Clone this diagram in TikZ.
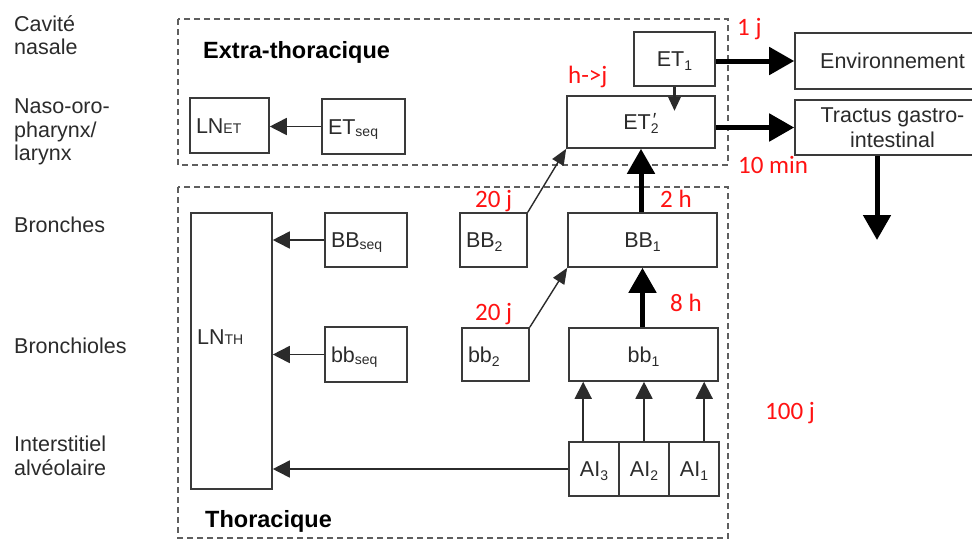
\documentclass[tikz,border=0pt]{standalone}
\usepackage{fontspec}
\setmainfont{Liberation Sans}
\newfontfamily\redfont{Carlito}
\usetikzlibrary{arrows.meta}

\definecolor{ink}{HTML}{2B2B2B}
\definecolor{frame}{HTML}{3A3A3A}
\definecolor{dashgray}{HTML}{5E5E5E}
\definecolor{timered}{HTML}{FF1212}

% small index set after a compartment name
\newcommand{\lo}[2][0pt]{\raisebox{#1}{\fontsize{14}{14}\selectfont #2}}
% prime placed above the index
\newcommand{\pr}{\makebox[0pt][l]{\hspace{2pt}\raisebox{3pt}{\fontsize{19}{19}\selectfont ′}}}

\tikzset{
  frameonly/.style={draw=frame, line width=1.6pt, inner sep=0pt, text=ink,
    fill=white, font=\fontsize{21.5}{25}\selectfont},
  box/.style={frameonly, text height=16pt, text depth=1pt},
  lbox/.style={box, align=left, inner xsep=6pt},
  zone/.style={draw=dashgray, line width=1.7pt, dash pattern=on 6pt off 4pt},
  side/.style={anchor=base west, inner sep=0pt, text=ink,
    font=\fontsize{21.5}{23.5}\selectfont},
  title/.style={anchor=base west, inner sep=0pt, text=black,
    font=\fontsize{23.5}{26}\selectfont\bfseries},
  delay/.style={anchor=base west, inner sep=0pt, text=timered,
    font=\redfont\fontsize{25}{27}\selectfont},
  thin/.style={draw=ink, line width=1.7pt, -{Triangle[length=17pt,width=17pt]}},
  slim/.style={draw=ink, line width=1.4pt, -{Triangle[length=16pt,width=13pt]}},
  drop/.style={draw=ink, line width=2.8pt, -{Triangle[length=14pt,width=12pt]}},
  thick/.style={draw=black, line width=5pt, -{Triangle[length=25pt,width=27pt]}},
}

\begin{document}
\begin{tikzpicture}[x=1pt,y=-1pt]
  \useasboundingbox (0,0) rectangle (972,542);
  \clip (0,0) rectangle (972,542);
  \fill[white] (0,0) rectangle (972,542);

  % regions of the respiratory tract
  \node[side] (l1) at (14,31) {Cavité};
  \node[side] (l2) at (14,54.5) {nasale};
  \node[side] (l3) at (14,113) {Naso-oro-};
  \node[side] (l4) at (14,137) {pharynx/};
  \node[side] (l5) at (14,160) {larynx};
  \node[side] (l6) at (14,232) {Bronches};
  \node[side] (l7) at (14,353) {Bronchioles};
  \node[side] (l8) at (14,451) {Interstitiel};
  \node[side] (l9) at (14,475) {alvéolaire};

  % dashed zones
  \draw[zone] (178,19) rectangle (728,165);
  \draw[zone] (178,187) rectangle (728,538);
  \node[title] (tET) at (203,58) {Extra-thoracique};
  \node[title] (tTH) at (205,527) {Thoracique};

  % extra-thoracic compartments
  \node[lbox, minimum width=79pt, text width=67pt, minimum height=55pt]
    (LNET) at (229.5,125.5) {LN\lo{ET}};
  \node[lbox, minimum width=83pt, text width=71pt, minimum height=55pt]
    (ETseq) at (363.5,126.5) {ET\lo[-2pt]{seq}};
  \node[box, minimum width=81pt, minimum height=54pt]
    (ET1) at (674.5,59) {ET\lo[-4pt]{1}};
  \node[box, minimum width=148pt, minimum height=52pt]
    (ET2) at (641,122) {ET\pr\lo[-4pt]{2}};

  % destinations
  \node[frameonly, minimum width=195pt, minimum height=56pt,
    text height=16pt, text depth=1pt]
    (Env) at (892.5,61) {Environnement};
  \node[frameonly, minimum width=195pt, minimum height=55pt, align=center]
    (Tract) at (892.5,127.5) {Tractus gastro-\\intestinal};

  % thoracic compartments
  \node[frameonly, minimum width=81pt, minimum height=276pt]
    (LNTH) at (231.5,351) {};
  \node[anchor=base west, inner sep=0pt, text=ink,
    font=\fontsize{21.5}{25}\selectfont] (LNTHtext) at (197,344) {LN\lo{TH}};
  \node[lbox, minimum width=82pt, text width=70pt, minimum height=54pt]
    (BBseq) at (366,240) {BB\lo[-2pt]{seq}};
  \node[lbox, minimum width=82pt, text width=70pt, minimum height=55pt]
    (bbseq) at (366,354.5) {bb\lo[-2pt]{seq}};
  \node[lbox, minimum width=67pt, text width=55pt, minimum height=54pt]
    (BB2) at (493.5,240) {BB\lo[-4pt]{2}};
  \node[lbox, minimum width=67pt, text width=55pt, minimum height=53pt]
    (bb2) at (495.5,354.5) {bb\lo[-4pt]{2}};
  \node[box, minimum width=149pt, minimum height=54pt]
    (BB1) at (642.5,240) {BB\lo[-4pt]{1}};
  \node[box, minimum width=149pt, minimum height=53pt]
    (bb1) at (643.5,354.5) {bb\lo[-4pt]{1}};
  \node[box, minimum width=50pt, minimum height=54pt]
    (AI3) at (594,469) {AI\lo[-4pt]{3}};
  \node[box, minimum width=50pt, minimum height=54pt]
    (AI2) at (644,469) {AI\lo[-4pt]{2}};
  \node[box, minimum width=50pt, minimum height=54pt]
    (AI1) at (694,469) {AI\lo[-4pt]{1}};

  % transfers to lymph nodes
  \draw[thin] (ETseq.west) -- (ETseq.west -| LNET.east);
  \draw[thin] (BBseq.west) -- (BBseq.west -| LNTH.east);
  \draw[thin] (bbseq.west) -- (bbseq.west -| LNTH.east);
  \draw[thin] (AI3.west) -- (AI3.west -| LNTH.east);

  % alveolar clearance
  \draw[thin] ([xshift=15pt]AI3.north west) -- ([xshift=15pt]AI3.north west |- bb1.south);
  \draw[thin] (AI2.north) -- (AI2.north |- bb1.south);
  \draw[thin] ([xshift=36pt]AI1.north west) -- ([xshift=36pt]AI1.north west |- bb1.south);

  % slow clearance paths
  \draw[slim] (bb2.north east) -- (BB1.south west);
  \draw[slim] (BB2.north east) -- (ET2.south west);

  % fast clearance paths
  \draw[thick] (bb1.north -| BB1.south) -- (BB1.south);
  \draw[thick] (BB1.north -| ET2.south) -- (ET2.south);
  \coordinate (ettip) at (674.5,111);
  \draw[drop] (ET1.south) -- (ettip);
  \draw[thick] (ET1.east |- Env.west) -- (Env.west);
  \draw[thick] (ET2.east |- Tract.west) -- (Tract.west);
  \coordinate (gidown) at (877,240);
  \draw[thick] (gidown |- Tract.south) -- (gidown);

  % clearance times
  \node[delay] (d1) at (737,35) {1 j};
  \node[delay] (d2) at (568,83) {h->j};
  \node[delay] (d3) at (738,173) {10 min};
  \node[delay] (d4) at (475,207) {20 j};
  \node[delay] (d5) at (660,207) {2 h};
  \node[delay] (d6) at (475,320) {20 j};
  \node[delay] (d7) at (670,311) {8 h};
  \node[delay] (d8) at (765,419) {100 j};
\end{tikzpicture}
\end{document}
